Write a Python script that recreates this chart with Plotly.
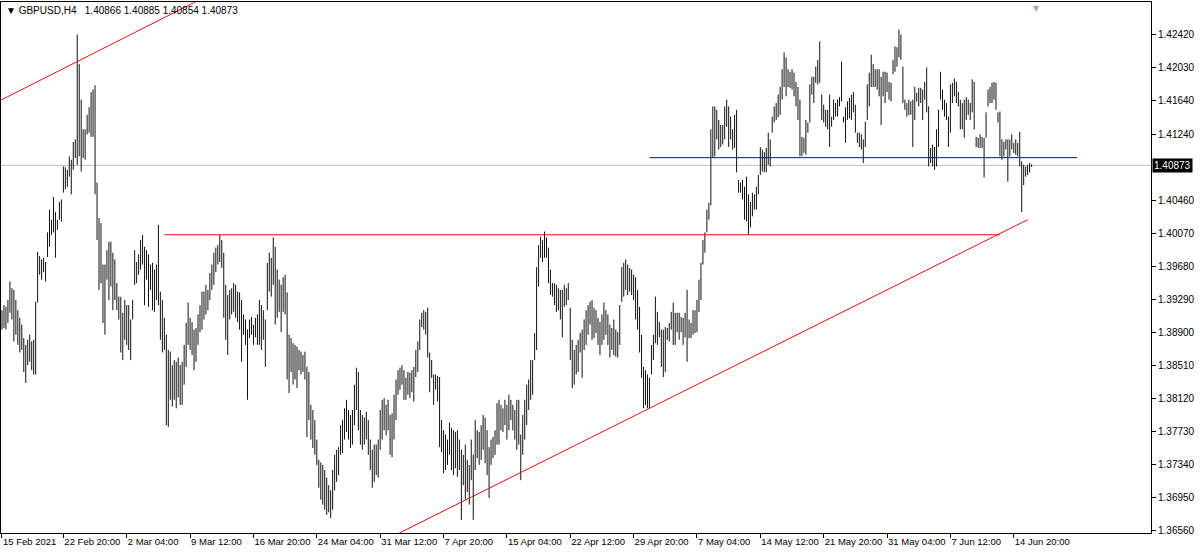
import plotly.graph_objects as go
import pandas as pd

# ---------------- data ----------------
symbol = "GBPUSD,H4"
last_ohlc = [1.40866, 1.40885, 1.40854, 1.40873]
first_bar_time = "2021-02-15 16:00"

highs = [
    1.3916, 1.3922, 1.3920, 1.3928, 1.3950, 1.3942, 1.3940, 1.3928, 1.3916, 1.3907,
    1.3899, 1.3883, 1.3875, 1.3881, 1.3887, 1.3879, 1.3881, 1.3926, 1.3985, 1.3980,
    1.3976, 1.3978, 1.3973, 1.4008, 1.4035, 1.4023, 1.4050, 1.4032, 1.4023, 1.4044,
    1.4047, 1.4086, 1.4085, 1.4082, 1.4098, 1.4094, 1.4115, 1.4118, 1.4242, 1.4207,
    1.4165, 1.4130, 1.4130, 1.4147, 1.4156, 1.4174, 1.4177, 1.4182, 1.4067, 1.4025,
    1.4019, 1.3970, 1.3970, 1.3987, 1.3997, 1.3997, 1.3984, 1.3976, 1.3948, 1.3932,
    1.3932, 1.3913, 1.3928, 1.3922, 1.3922, 1.3905, 1.3928, 1.3987, 1.3973, 1.3982,
    1.3999, 1.4005, 1.3991, 1.3987, 1.3982, 1.3970, 1.3972, 1.3964, 1.3970, 1.4017,
    1.3938, 1.3928, 1.3907, 1.3887, 1.3869, 1.3867, 1.3851, 1.3857, 1.3855, 1.3860,
    1.3851, 1.3855, 1.3875, 1.3901, 1.3925, 1.3907, 1.3902, 1.3893, 1.3895, 1.3911,
    1.3922, 1.3938, 1.3938, 1.3946, 1.3940, 1.3960, 1.3970, 1.3984, 1.3990, 1.3993,
    1.4005, 1.3999, 1.3984, 1.3946, 1.3934, 1.3940, 1.3942, 1.3948, 1.3946, 1.3938,
    1.3937, 1.3928, 1.3911, 1.3905, 1.3893, 1.3905, 1.3908, 1.3899, 1.3907, 1.3911,
    1.3928, 1.3922, 1.3916, 1.3905, 1.3972, 1.3984, 1.3978, 1.4002, 1.3991, 1.3964,
    1.3952, 1.3946, 1.3955, 1.3958, 1.3937, 1.3887, 1.3883, 1.3877, 1.3875, 1.3873,
    1.3869, 1.3867, 1.3863, 1.3867, 1.3849, 1.3843, 1.3804, 1.3798, 1.3786, 1.3763,
    1.3739, 1.3736, 1.3733, 1.3727, 1.3718, 1.3709, 1.3703, 1.3727, 1.3745, 1.3751,
    1.3754, 1.3780, 1.3786, 1.3800, 1.3810, 1.3798, 1.3792, 1.3798, 1.3828, 1.3848,
    1.3843, 1.3798, 1.3792, 1.3789, 1.3796, 1.3786, 1.3763, 1.3751, 1.3757, 1.3757,
    1.3763, 1.3798, 1.3810, 1.3812, 1.3804, 1.3810, 1.3792, 1.3794, 1.3816, 1.3834,
    1.3845, 1.3848, 1.3851, 1.3845, 1.3836, 1.3843, 1.3842, 1.3845, 1.3849, 1.3869,
    1.3879, 1.3905, 1.3913, 1.3916, 1.3914, 1.3919, 1.3866, 1.3857, 1.3840, 1.3840,
    1.3838, 1.3837, 1.3786, 1.3774, 1.3769, 1.3763, 1.3783, 1.3777, 1.3774, 1.3772,
    1.3774, 1.3763, 1.3751, 1.3745, 1.3757, 1.3739, 1.3733, 1.3763, 1.3745, 1.3786,
    1.3774, 1.3772, 1.3780, 1.3792, 1.3789, 1.3774, 1.3754, 1.3763, 1.3766, 1.3774,
    1.3806, 1.3810, 1.3804, 1.3800, 1.3810, 1.3804, 1.3816, 1.3810, 1.3804, 1.3798,
    1.3810, 1.3810, 1.3769, 1.3792, 1.3810, 1.3828, 1.3834, 1.3857, 1.3857, 1.3889,
    1.3967, 1.3993, 1.4003, 1.3999, 1.4009, 1.4002, 1.3990, 1.3964, 1.3948, 1.3948,
    1.3946, 1.3942, 1.3940, 1.3940, 1.3946, 1.3942, 1.3948, 1.3919, 1.3881, 1.3869,
    1.3875, 1.3881, 1.3889, 1.3893, 1.3905, 1.3916, 1.3922, 1.3926, 1.3928, 1.3919,
    1.3916, 1.3907, 1.3902, 1.3911, 1.3925, 1.3916, 1.3911, 1.3899, 1.3895, 1.3905,
    1.3893, 1.3890, 1.3922, 1.3967, 1.3972, 1.3976, 1.3970, 1.3966, 1.3964, 1.3958,
    1.3955, 1.3940, 1.3920, 1.3887, 1.3849, 1.3845, 1.3840, 1.3836, 1.3875, 1.3887,
    1.3932, 1.3914, 1.3902, 1.3893, 1.3893, 1.3896, 1.3895, 1.3901, 1.3914, 1.3925,
    1.3913, 1.3913, 1.3913, 1.3908, 1.3907, 1.3913, 1.3940, 1.3905, 1.3901, 1.3916,
    1.3916, 1.3928, 1.3952, 1.3972, 1.3999, 1.4008, 1.4035, 1.4043, 1.4130, 1.4157,
    1.4157, 1.4153, 1.4141, 1.4135, 1.4135, 1.4157, 1.4165, 1.4157, 1.4145, 1.4130,
    1.4147, 1.4153, 1.4070, 1.4067, 1.4070, 1.4062, 1.4074, 1.4053, 1.4044, 1.4055,
    1.4053, 1.4062, 1.4076, 1.4109, 1.4106, 1.4103, 1.4108, 1.4126, 1.4118, 1.4145,
    1.4157, 1.4161, 1.4171, 1.4180, 1.4201, 1.4221, 1.4215, 1.4201, 1.4198, 1.4201,
    1.4197, 1.4186, 1.4180, 1.4165, 1.4121, 1.4120, 1.4141, 1.4138, 1.4183, 1.4192,
    1.4192, 1.4204, 1.4212, 1.4234, 1.4171, 1.4159, 1.4153, 1.4153, 1.4171, 1.4145,
    1.4165, 1.4161, 1.4165, 1.4168, 1.4210, 1.4145, 1.4156, 1.4163, 1.4167, 1.4171,
    1.4174, 1.4159, 1.4126, 1.4126, 1.4124, 1.4118, 1.4139, 1.4183, 1.4197, 1.4218,
    1.4207, 1.4201, 1.4201, 1.4201, 1.4192, 1.4198, 1.4198, 1.4197, 1.4186, 1.4185,
    1.4212, 1.4228, 1.4227, 1.4248, 1.4242, 1.4204, 1.4165, 1.4161, 1.4165, 1.4163,
    1.4165, 1.4180, 1.4173, 1.4179, 1.4179, 1.4177, 1.4186, 1.4203, 1.4157, 1.4108,
    1.4112, 1.4109, 1.4130, 1.4153, 1.4198, 1.4177, 1.4165, 1.4161, 1.4145, 1.4183,
    1.4185, 1.4190, 1.4186, 1.4174, 1.4165, 1.4161, 1.4165, 1.4168, 1.4165, 1.4161,
    1.4189, 1.4186, 1.4121, 1.4120, 1.4124, 1.4121, 1.4120, 1.4150, 1.4177, 1.4180,
    1.4185, 1.4186, 1.4185, 1.4150, 1.4151, 1.4118, 1.4115, 1.4118, 1.4118, 1.4118,
    1.4124, 1.4114, 1.4118, 1.4114, 1.4127, 1.4092, 1.4088, 1.4086, 1.4088, 1.4090,
    1.40885,
]

lows = [
    1.3893, 1.3895, 1.3893, 1.3901, 1.3913, 1.3905, 1.3879, 1.3887, 1.3875, 1.3866,
    1.3869, 1.3843, 1.3830, 1.3851, 1.3855, 1.3845, 1.3840, 1.3840, 1.3925, 1.3958,
    1.3952, 1.3961, 1.3950, 1.3979, 1.3991, 1.4005, 1.4008, 1.3978, 1.4011, 1.4023,
    1.4021, 1.4055, 1.4059, 1.4062, 1.4074, 1.4053, 1.4082, 1.4096, 1.4088, 1.4098,
    1.4080, 1.4096, 1.4094, 1.4124, 1.4126, 1.4121, 1.4121, 1.4053, 1.3999, 1.3940,
    1.3948, 1.3901, 1.3887, 1.3952, 1.3928, 1.3944, 1.3916, 1.3928, 1.3916, 1.3905,
    1.3866, 1.3857, 1.3881, 1.3875, 1.3869, 1.3857, 1.3905, 1.3946, 1.3948, 1.3958,
    1.3964, 1.3970, 1.3922, 1.3952, 1.3920, 1.3940, 1.3916, 1.3914, 1.3928, 1.3922,
    1.3881, 1.3866, 1.3869, 1.3780, 1.3778, 1.3810, 1.3802, 1.3810, 1.3800, 1.3813,
    1.3804, 1.3804, 1.3828, 1.3849, 1.3875, 1.3869, 1.3863, 1.3845, 1.3855, 1.3875,
    1.3890, 1.3893, 1.3905, 1.3911, 1.3916, 1.3928, 1.3940, 1.3946, 1.3961, 1.3970,
    1.3973, 1.3966, 1.3907, 1.3881, 1.3863, 1.3905, 1.3911, 1.3914, 1.3907, 1.3902,
    1.3893, 1.3855, 1.3887, 1.3875, 1.3810, 1.3883, 1.3887, 1.3875, 1.3884, 1.3875,
    1.3875, 1.3869, 1.3881, 1.3849, 1.3916, 1.3938, 1.3932, 1.3946, 1.3899, 1.3907,
    1.3914, 1.3890, 1.3914, 1.3911, 1.3834, 1.3818, 1.3843, 1.3828, 1.3834, 1.3824,
    1.3845, 1.3840, 1.3843, 1.3834, 1.3766, 1.3786, 1.3763, 1.3753, 1.3745, 1.3733,
    1.3706, 1.3692, 1.3686, 1.3680, 1.3674, 1.3677, 1.3670, 1.3680, 1.3703, 1.3713,
    1.3721, 1.3745, 1.3747, 1.3763, 1.3772, 1.3763, 1.3753, 1.3757, 1.3780, 1.3798,
    1.3774, 1.3757, 1.3751, 1.3757, 1.3763, 1.3745, 1.3727, 1.3706, 1.3713, 1.3721,
    1.3718, 1.3751, 1.3763, 1.3774, 1.3768, 1.3774, 1.3745, 1.3742, 1.3763, 1.3786,
    1.3816, 1.3822, 1.3828, 1.3810, 1.3810, 1.3816, 1.3812, 1.3819, 1.3808, 1.3837,
    1.3843, 1.3869, 1.3896, 1.3893, 1.3887, 1.3860, 1.3819, 1.3836, 1.3804, 1.3822,
    1.3808, 1.3754, 1.3748, 1.3723, 1.3727, 1.3733, 1.3745, 1.3727, 1.3721, 1.3729,
    1.3719, 1.3727, 1.3668, 1.3709, 1.3692, 1.3701, 1.3686, 1.3715, 1.3668, 1.3727,
    1.3741, 1.3733, 1.3739, 1.3751, 1.3735, 1.3721, 1.3694, 1.3733, 1.3741, 1.3745,
    1.3757, 1.3757, 1.3774, 1.3772, 1.3780, 1.3763, 1.3774, 1.3786, 1.3774, 1.3763,
    1.3751, 1.3757, 1.3715, 1.3745, 1.3763, 1.3780, 1.3798, 1.3810, 1.3816, 1.3857,
    1.3869, 1.3944, 1.3978, 1.3973, 1.3978, 1.3978, 1.3948, 1.3934, 1.3932, 1.3922,
    1.3914, 1.3916, 1.3905, 1.3884, 1.3920, 1.3922, 1.3928, 1.3857, 1.3824, 1.3828,
    1.3840, 1.3843, 1.3866, 1.3836, 1.3869, 1.3875, 1.3887, 1.3899, 1.3881, 1.3883,
    1.3889, 1.3875, 1.3863, 1.3875, 1.3881, 1.3887, 1.3875, 1.3860, 1.3869, 1.3863,
    1.3861, 1.3860, 1.3875, 1.3926, 1.3932, 1.3940, 1.3934, 1.3938, 1.3934, 1.3928,
    1.3905, 1.3893, 1.3866, 1.3836, 1.3800, 1.3804, 1.3800, 1.3800, 1.3840, 1.3857,
    1.3877, 1.3875, 1.3884, 1.3849, 1.3837, 1.3843, 1.3881, 1.3879, 1.3893, 1.3875,
    1.3875, 1.3890, 1.3881, 1.3890, 1.3875, 1.3884, 1.3855, 1.3883, 1.3883, 1.3887,
    1.3889, 1.3890, 1.3914, 1.3928, 1.3970, 1.3984, 1.4008, 1.4023, 1.4040, 1.4096,
    1.4098, 1.4118, 1.4106, 1.4109, 1.4112, 1.4118, 1.4133, 1.4109, 1.4118, 1.4106,
    1.4108, 1.4079, 1.4055, 1.4055, 1.4047, 1.4023, 1.4021, 1.4005, 1.4014, 1.4027,
    1.4035, 1.4035, 1.4053, 1.4076, 1.4080, 1.4079, 1.4079, 1.4088, 1.4086, 1.4126,
    1.4138, 1.4141, 1.4144, 1.4147, 1.4165, 1.4180, 1.4169, 1.4180, 1.4179, 1.4177,
    1.4169, 1.4157, 1.4141, 1.4098, 1.4098, 1.4102, 1.4100, 1.4126, 1.4138, 1.4171,
    1.4161, 1.4185, 1.4183, 1.4185, 1.4141, 1.4138, 1.4133, 1.4130, 1.4109, 1.4133,
    1.4141, 1.4145, 1.4145, 1.4157, 1.4163, 1.4138, 1.4114, 1.4141, 1.4143, 1.4141,
    1.4150, 1.4126, 1.4114, 1.4109, 1.4106, 1.4090, 1.4109, 1.4141, 1.4157, 1.4180,
    1.4180, 1.4180, 1.4177, 1.4169, 1.4135, 1.4169, 1.4161, 1.4174, 1.4165, 1.4163,
    1.4195, 1.4198, 1.4204, 1.4215, 1.4212, 1.4161, 1.4153, 1.4145, 1.4147, 1.4147,
    1.4109, 1.4141, 1.4163, 1.4157, 1.4161, 1.4141, 1.4165, 1.4150, 1.4086, 1.4090,
    1.4086, 1.4082, 1.4086, 1.4109, 1.4165, 1.4153, 1.4145, 1.4141, 1.4109, 1.4126,
    1.4161, 1.4169, 1.4161, 1.4157, 1.4130, 1.4130, 1.4120, 1.4141, 1.4147, 1.4141,
    1.4150, 1.4130, 1.4109, 1.4108, 1.4108, 1.4108, 1.4073, 1.4120, 1.4157, 1.4161,
    1.4161, 1.4165, 1.4153, 1.4138, 1.4098, 1.4094, 1.4098, 1.4106, 1.4068, 1.4098,
    1.4106, 1.4102, 1.4100, 1.4098, 1.4086, 1.4032, 1.4064, 1.4074, 1.4076, 1.4079,
    1.40854,
]

tick_times = [
    "2021-02-15 16:00", "2021-02-22 20:00", "2021-03-02 04:00", "2021-03-09 12:00",
    "2021-03-16 20:00", "2021-03-24 04:00", "2021-03-31 12:00", "2021-04-07 20:00",
    "2021-04-15 04:00", "2021-04-22 12:00", "2021-04-29 20:00", "2021-05-07 04:00",
    "2021-05-14 12:00", "2021-05-21 20:00", "2021-05-31 04:00", "2021-06-07 12:00",
    "2021-06-14 20:00",
]
tick_labels = [
    "15 Feb 2021", "22 Feb 20:00", "2 Mar 04:00", "9 Mar 12:00", "16 Mar 20:00",
    "24 Mar 04:00", "31 Mar 12:00", "7 Apr 20:00", "15 Apr 04:00", "22 Apr 12:00",
    "29 Apr 20:00", "7 May 04:00", "14 May 12:00", "21 May 20:00", "31 May 04:00",
    "7 Jun 12:00", "14 Jun 20:00",
]
price_ticks = [1.42420, 1.42030, 1.41640, 1.41240, 1.40460, 1.40070, 1.39680,
               1.39290, 1.38900, 1.38510, 1.38120, 1.37730, 1.37340, 1.36950, 1.36560]

# drawn objects: (bar index list, price list)
trend_top_x, trend_top_y = [-1, 100], [1.41639, 1.42834]
support_red_x, support_red_y = [82, 504], [1.40052, 1.40052]
level_blue_x, level_blue_y = [327, 543], [1.40964, 1.40964]
trend_up_x, trend_up_y = [196, 518], [1.36470, 1.40230]

# ---------------- build ----------------
n = min(len(highs), len(lows))
times = []
t = pd.Timestamp(first_bar_time)
while len(times) < n:
    if t.weekday() < 5:
        times.append(t)
    t += pd.Timedelta(hours=4)
tick_idx = [times.index(pd.Timestamp(s)) for s in tick_times]

xs, ys = [], []
for i in range(n):
    xs += [i, i, None]
    ys += [lows[i], highs[i], None]

FONT = "Liberation Sans, Arial, sans-serif"
fig = go.Figure()
fig.add_trace(go.Scatter(x=xs, y=ys, mode="lines",
                         line=dict(color="#111111", width=1),
                         hoverinfo="skip", showlegend=False))
fig.add_trace(go.Scatter(x=trend_top_x, y=trend_top_y, mode="lines",
                         line=dict(color="#e01010", width=1), showlegend=False))
fig.add_trace(go.Scatter(x=support_red_x, y=support_red_y, mode="lines",
                         line=dict(color="#d01010", width=1), showlegend=False))
fig.add_trace(go.Scatter(x=level_blue_x, y=level_blue_y, mode="lines",
                         line=dict(color="#0000ff", width=1), showlegend=False))
fig.add_trace(go.Scatter(x=trend_up_x, y=trend_up_y, mode="lines",
                         line=dict(color="#e01010", width=1), showlegend=False))

fig.add_shape(type="line", xref="paper", x0=0, x1=1, y0=last_ohlc[3], y1=last_ohlc[3],
              line=dict(color="#c0c0c0", width=1), layer="below")

NB = "\u00a0"
title_txt = "▼ " + symbol + NB + NB + " " + " ".join(f"{v:.5f}" for v in last_ohlc)
fig.add_annotation(text=title_txt, x=0, y=1, xref="paper", yref="paper",
                   xanchor="left", yanchor="top", xshift=3, yshift=-1, showarrow=False,
                   font=dict(family=FONT, size=10, color="black"))
fig.add_annotation(text=f"{last_ohlc[3]:.5f}", x=1, y=last_ohlc[3], xref="paper", yref="y",
                   xanchor="left", yanchor="middle", xshift=1, showarrow=False,
                   bgcolor="black", borderpad=1,
                   font=dict(family=FONT, size=10, color="white"))
fig.add_annotation(text="▼", x=0.9, y=1, xref="paper", yref="paper",
                   xanchor="center", yanchor="top", showarrow=False,
                   font=dict(family="DejaVu Sans", size=8, color="#a8a8a8"))

fig.update_layout(
    width=1200, height=553,
    margin=dict(l=1, r=49, t=2, b=20),
    paper_bgcolor="white", plot_bgcolor="white",
    showlegend=False,
    font=dict(family=FONT, size=10, color="black"),
    xaxis=dict(range=[-0.5, 580.3], showgrid=False, zeroline=False,
               showline=True, linecolor="black", linewidth=1, mirror=True,
               ticks="outside", ticklen=4, tickcolor="black",
               tickvals=tick_idx, ticktext=tick_labels, tickangle=0,
               ticklabelposition="outside right",
               tickfont=dict(family=FONT, size=9.5, color="black")),
    yaxis=dict(range=[1.36525, 1.42805], side="right", showgrid=False, zeroline=False,
               showline=True, linecolor="black", linewidth=1, mirror=True,
               ticks="outside", ticklen=4, tickcolor="black",
               tickvals=price_ticks, ticktext=[f"{v:.5f}" for v in price_ticks],
               tickfont=dict(family=FONT, size=10, color="black")),
)

fig.write_html("out.html", config={"displayModeBar": False},
               post_script="document.body.style.margin='0';document.body.style.padding='0';")
